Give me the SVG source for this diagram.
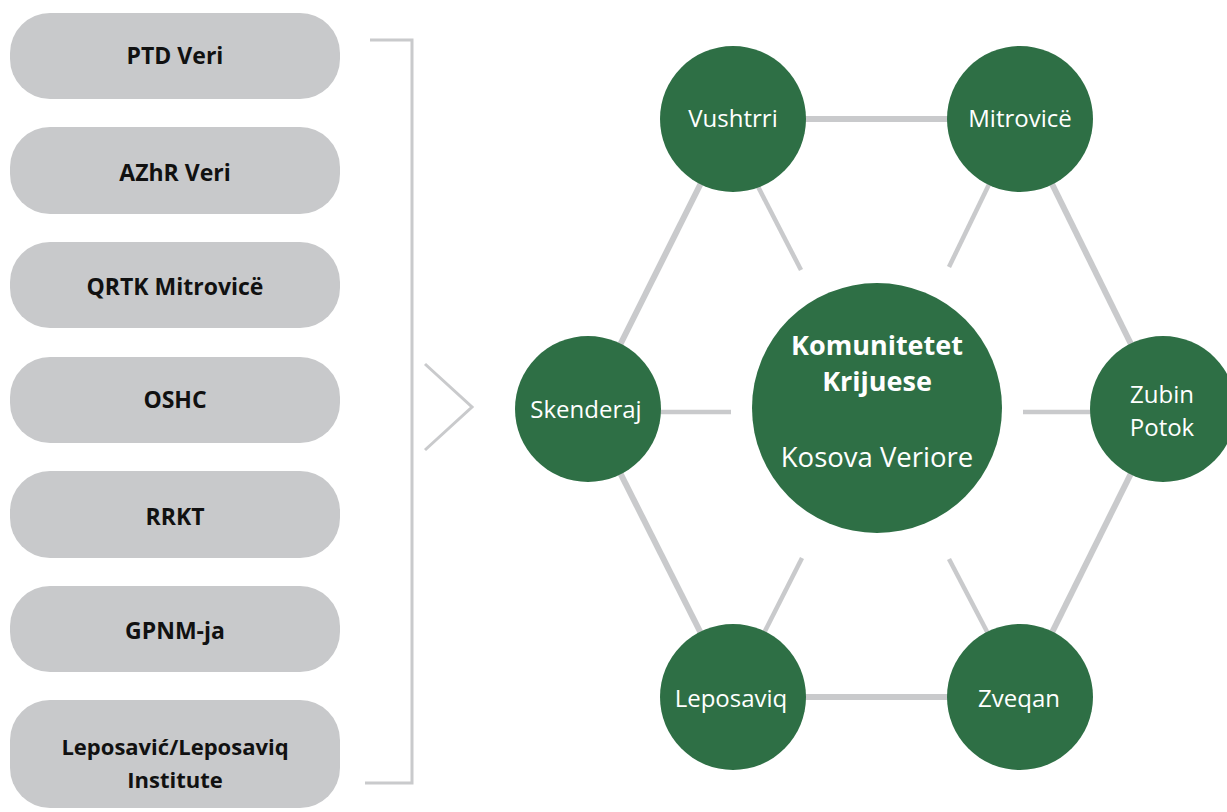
<svg xmlns="http://www.w3.org/2000/svg" width="1227" height="812" viewBox="0 0 1227 812">
<style>
.box{fill:#c8c9cb}
.bt{font-family:"Open Sans","Liberation Sans",sans-serif;font-weight:bold;font-size:23px;fill:#111;text-anchor:middle}
.node{fill:#2e6f45}
.nt{font-family:"Open Sans","Liberation Sans",sans-serif;font-size:24px;fill:#fff;text-anchor:middle}
.edge{stroke:#c9cacc;stroke-width:6;fill:none}
.spoke{stroke:#c9cacc;stroke-width:4.5;fill:none}
.br{stroke:#c9cacc;stroke-width:3;fill:none}
</style>
<rect width="1227" height="812" fill="#fff"/>
<g id="boxes">
<g id="b1"><rect class="box" x="10" y="13" width="330" height="86" rx="40"/><text class="bt" x="175" y="64">PTD Veri</text></g>
<g id="b2"><rect class="box" x="10" y="127" width="330" height="87" rx="40"/><text class="bt" x="175" y="181">AZhR Veri</text></g>
<g id="b3"><rect class="box" x="10" y="242" width="330" height="86" rx="40"/><text class="bt" x="175" y="295">QRTK Mitrovicë</text></g>
<g id="b4"><rect class="box" x="10" y="357" width="330" height="86" rx="40"/><text class="bt" x="175" y="408">OSHC</text></g>
<g id="b5"><rect class="box" x="10" y="471" width="330" height="87" rx="40"/><text class="bt" x="175" y="525">RRKT</text></g>
<g id="b6"><rect class="box" x="10" y="586" width="330" height="86" rx="40"/><text class="bt" x="175" y="639">GPNM-ja</text></g>
<g id="b7"><rect class="box" x="10" y="700" width="330" height="108" rx="40"/><text class="bt" x="175" y="755" style="font-size:22px">Leposavić/Leposaviq</text><text class="bt" x="175" y="788" style="font-size:22px">Institute</text></g>
</g>
<g id="bracket">
<polyline class="br" points="370,40 412,40 412,783 365,783"/>
<polyline class="br" points="425,364 472,407 425,450"/>
</g>
<g id="connectors">
<line class="edge" x1="733" y1="119" x2="1020" y2="119"/>
<line class="edge" x1="733" y1="119" x2="588" y2="409"/>
<line class="edge" x1="1020" y1="119" x2="1163" y2="409"/>
<line class="edge" x1="588" y1="409" x2="733" y2="697"/>
<line class="edge" x1="1163" y1="409" x2="1020" y2="697"/>
<line class="edge" x1="733" y1="697" x2="1020" y2="697"/>
<line class="spoke" x1="752" y1="175" x2="801" y2="270"/>
<line class="spoke" x1="995" y1="172" x2="949" y2="267"/>
<line class="spoke" x1="802" y1="558" x2="758" y2="645"/>
<line class="spoke" x1="949" y1="559" x2="994" y2="645"/>
<line class="spoke" x1="650" y1="412" x2="731" y2="412"/>
<line class="spoke" x1="1023" y1="412" x2="1100" y2="412"/>
</g>
<g id="center"><circle class="node" cx="877" cy="408" r="125"/>
<text x="877" y="355" style="font-family:'Open Sans','Liberation Sans',sans-serif;font-weight:bold;font-size:27px;fill:#fff;text-anchor:middle">Komunitetet</text>
<text x="877" y="391" style="font-family:'Open Sans','Liberation Sans',sans-serif;font-weight:bold;font-size:27px;fill:#fff;text-anchor:middle">Krijuese</text>
<text x="877" y="467" style="font-family:'Open Sans','Liberation Sans',sans-serif;font-size:27.5px;fill:#fff;text-anchor:middle">Kosova Veriore</text>
</g>
<g id="vushtrri"><circle class="node" cx="733" cy="119" r="73"/><text class="nt" x="733" y="127">Vushtrri</text></g>
<g id="mitrovice"><circle class="node" cx="1020" cy="119" r="73"/><text class="nt" x="1020" y="127">Mitrovicë</text></g>
<g id="skenderaj"><circle class="node" cx="588" cy="409" r="73"/><text class="nt" x="586" y="418">Skenderaj</text></g>
<g id="zubin"><circle class="node" cx="1163" cy="409" r="73"/><text class="nt" x="1162" y="403">Zubin</text><text class="nt" x="1162" y="436">Potok</text></g>
<g id="leposaviq"><circle class="node" cx="733" cy="697" r="73"/><text class="nt" x="731" y="707">Leposaviq</text></g>
<g id="zveqan"><circle class="node" cx="1020" cy="697" r="73"/><text class="nt" x="1019" y="707">Zveqan</text></g>
</svg>
